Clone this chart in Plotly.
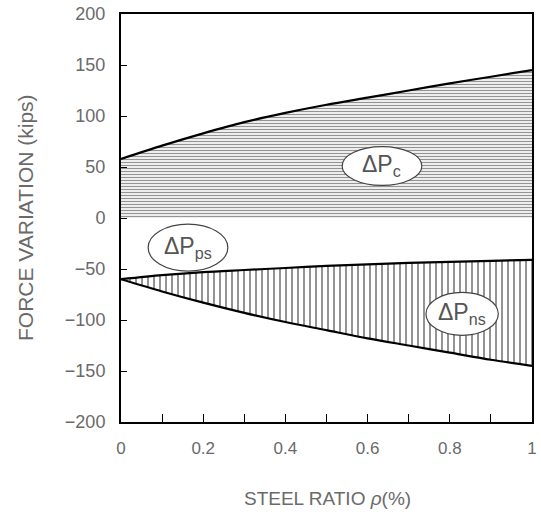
import plotly.graph_objects as go

steel_ratio = [0.0, 0.1, 0.2, 0.3, 0.4, 0.5, 0.6, 0.7, 0.8, 0.9, 1.0]
dp_c = [58, 71, 83, 94, 103, 111, 118, 125, 132, 138.5, 145]
dp_ps = [-60, -56, -53, -51, -49, -47, -45.5, -44, -43, -42, -41]
dp_ns_lower = [-60, -72, -83, -93, -102, -110, -118, -125, -132, -139, -145]
zero_base = [0] * len(steel_ratio)

x_tick_vals = [0, 0.2, 0.4, 0.6, 0.8, 1.0]
x_tick_text = ["0", "0.2", "0.4", "0.6", "0.8", "1"]

# label text, centre x, centre y, half-width (x units), half-height (y units)
labels = [
    ("ΔP<sub>c</sub>", 0.635, 51, 0.097, 19),
    ("ΔP<sub>ps</sub>", 0.163, -29, 0.097, 23),
    ("ΔP<sub>ns</sub>", 0.83, -94, 0.088, 21),
]

TXT = "#6a6a6a"
FONT = "Liberation Sans, Arial, sans-serif"

fig = go.Figure()
fig.add_trace(go.Scatter(x=steel_ratio, y=zero_base, mode="lines",
                         line=dict(width=0, color="rgba(0,0,0,0)"), showlegend=False,
                         hoverinfo="skip"))
fig.add_trace(go.Scatter(x=steel_ratio, y=dp_c, mode="lines", fill="tonexty",
                         fillcolor="white",
                         fillpattern=dict(shape="-", size=3, solidity=0.45,
                                          fgcolor="#2a2a2a", bgcolor="white"),
                         line=dict(color="black", width=2.2, shape="spline",
                                   smoothing=0.8), showlegend=False))
fig.add_trace(go.Scatter(x=steel_ratio, y=dp_ps, mode="lines",
                         line=dict(color="black", width=2.2, shape="spline",
                                   smoothing=0.8), showlegend=False))
fig.add_trace(go.Scatter(x=steel_ratio, y=dp_ns_lower, mode="lines", fill="tonexty",
                         fillcolor="white",
                         fillpattern=dict(shape="|", size=6, solidity=0.3,
                                          fgcolor="#111111", bgcolor="white"),
                         line=dict(color="black", width=2.2, shape="spline",
                                   smoothing=0.8), showlegend=False))

shapes = []
annotations = []
for text, cx, cy, rx, ry in labels:
    shapes.append(dict(type="circle", xref="x", yref="y",
                       x0=cx - rx, x1=cx + rx, y0=cy - ry, y1=cy + ry,
                       fillcolor="white", line=dict(color="#444444", width=1.2),
                       layer="above"))
    annotations.append(dict(x=cx, y=cy, xref="x", yref="y", text=text,
                            showarrow=False,
                            font=dict(family=FONT, size=23, color="#555555")))

annotations.append(dict(x=(25 - 121) / 411, y=0.5, xref="paper", yref="paper",
                        xanchor="center", yanchor="middle",
                        text="FORCE VARIATION (kips)", textangle=-90,
                        showarrow=False, font=dict(family=FONT, size=21, color=TXT)))
annotations.append(dict(x=(327 - 121) / 411, y=-(498 - 422) / 408, xref="paper",
                        yref="paper", xanchor="center", yanchor="middle",
                        text="STEEL RATIO <i>ρ</i>(%)", showarrow=False,
                        font=dict(family=FONT, size=19, color=TXT)))

fig.update_layout(
    width=541, height=517,
    margin=dict(l=121, r=9, t=14, b=95, autoexpand=False),
    paper_bgcolor="white", plot_bgcolor="white",
    font=dict(family=FONT, color=TXT),
    shapes=shapes, annotations=annotations,
    xaxis=dict(range=[0, 1], tickvals=x_tick_vals, ticktext=x_tick_text,
               ticks="inside", ticklen=8, tickcolor="black", tickwidth=1,
               minor=dict(dtick=0.1, tick0=0, ticks="inside", ticklen=8,
                          tickcolor="black"),
               showline=True, linecolor="black", linewidth=2, mirror=True,
               showgrid=False, zeroline=False, automargin=False,
               ticklabeloverflow="allow",
               tickfont=dict(size=17, color=TXT), ticklabelstandoff=10),
    yaxis=dict(range=[-200, 200], dtick=50, ticks="inside", ticklen=6,
               tickcolor="black", tickwidth=1,
               showline=True, linecolor="black", linewidth=2, mirror=True,
               showgrid=False, zeroline=False, automargin=False,
               tickfont=dict(size=18, color=TXT), ticklabelstandoff=10),
)

fig.write_html("out.html", config={"displayModeBar": False})

# remove the browser's default 8px body margin so the figure sits at the page origin
with open("out.html", "r", encoding="utf-8") as f:
    html = f.read()
html = html.replace("<body>", '<body style="margin:0;overflow:hidden">', 1)
with open("out.html", "w", encoding="utf-8") as f:
    f.write(html)
